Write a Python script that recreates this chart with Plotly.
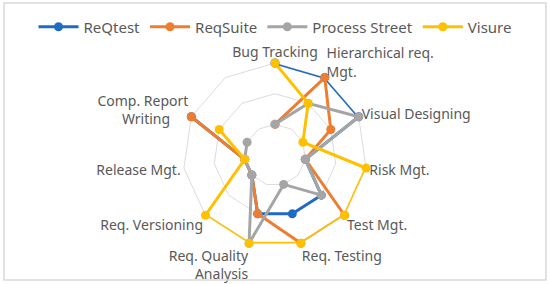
import plotly.graph_objects as go

NB = "\u00a0"
categories = ["Bug Tracking", "Hierarchical req.<br>Mgt.", "Visual Designing", "Risk Mgt.",
              "Test Mgt.", "Req. Testing", "Req. Quality<br>Analysis", "Req. Versioning",
              "Release Mgt.", "Comp. Report<br>Writing" + NB * 5, " "]

reqtest = [3, 3, 3, 1, 2, 2, 2, 1, 1, 3, None]
reqsuite = [1, 3, 2, 1, 3, 3, 2, 1, 1, 3, None]
process_street = [1, 2, 3, 1, 2, 1, 3, 1, 1, 1, None]
visure = [3, 2, 1, 3, 3, 3, 3, 3, 1, 2, None]

series = [
    ("ReQtest", reqtest, "#1f6bc4"),
    ("ReqSuite", reqsuite, "#ed7d31"),
    ("Process Street", process_street, "#a5a5a5"),
    ("Visure", visure, "#ffc000"),
]

fig = go.Figure()
for name, vals, col in series:
    fig.add_trace(go.Scatterpolar(
        r=vals, theta=categories, name=name, mode="lines+markers",
        line=dict(color=col, width=3), marker=dict(color=col, size=9),
        connectgaps=False,
    ))

W, H = 550, 284
cx, cy, R = 275, 155, 92
fig.update_layout(
    width=W, height=H,
    margin=dict(l=0, r=0, t=0, b=0),
    paper_bgcolor="white", plot_bgcolor="white",
    font=dict(family="Noto Sans", size=13, color="#595959"),
    showlegend=True,
    legend=dict(orientation="h", x=0.5, xanchor="center", y=(H - 27) / H, yanchor="middle",
                font=dict(size=15, color="#595959"), itemwidth=40, tracegroupgap=0,
                bgcolor="rgba(0,0,0,0)"),
    polar=dict(
        domain=dict(x=[(cx - R) / W, (cx + R) / W], y=[(H - cy - R) / H, (H - cy + R) / H]),
        bgcolor="white",
        gridshape="linear",
        radialaxis=dict(range=[0, 3], tickvals=[1, 2, 3], showticklabels=False, ticks="",
                        showline=False, gridcolor="#dcdcdc", gridwidth=1, layer="below traces"),
        angularaxis=dict(direction="clockwise", rotation=90, type="category",
                         categoryarray=categories, showgrid=False, ticks="",
                         showline=True, linecolor="#dcdcdc", linewidth=1, layer="below traces",
                         tickfont=dict(size=14, color="#595959")),
    ),
    shapes=[dict(type="rect", xref="paper", yref="paper",
                 x0=4 / W, x1=546 / W, y0=(H - 280) / H, y1=(H - 3) / H,
                 line=dict(color="#d9d9d9", width=1.5), fillcolor="rgba(0,0,0,0)")],
)
fig.write_html("out.html", config={"displayModeBar": False},
               post_script="document.body.style.margin='0';document.body.style.overflow='hidden';")
